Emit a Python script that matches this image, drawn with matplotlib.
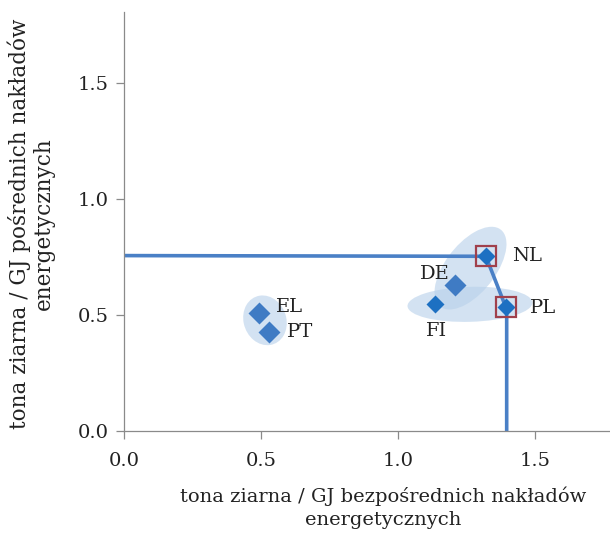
import matplotlib
matplotlib.use("Agg")
import matplotlib.pyplot as plt
from matplotlib.patches import Ellipse

plt.rcParams['font.family'] = ['DejaVu Serif']

countries = ["EL", "PT", "DE", "FI", "NL", "PL"]
direct = [0.493, 0.529, 1.208, 1.135, 1.321, 1.394]
indirect = [0.509, 0.427, 0.629, 0.547, 0.754, 0.534]
efficient = ["NL", "PL"]
frontier_x = [0.0, 1.321, 1.394, 1.397, 1.397]
frontier_y = [0.757, 0.754, 0.534, 0.5, 0.0]
xticks = [0.0, 0.5, 1.0, 1.5]
yticks = [0.0, 0.5, 1.0, 1.5]

fig = plt.figure(figsize=(6.10, 5.33), dpi=100)
ax = fig.add_axes([0.203, 0.191, 0.797, 0.786])

blue = "#4a80c6"
fill = "#b7d0ea"

# cluster ellipses
ax.add_patch(Ellipse((0.515, 0.478), 0.157, 0.216, angle=10, facecolor=fill, alpha=0.6, edgecolor='none', zorder=1))
ax.add_patch(Ellipse((1.263, 0.547), 0.456, 0.151, angle=2, facecolor=fill, alpha=0.6, edgecolor='none', zorder=1))
ax.add_patch(Ellipse((1.265, 0.703), 0.40, 0.19, angle=59, facecolor=fill, alpha=0.6, edgecolor='none', zorder=1))

ax.plot(frontier_x, frontier_y, color=blue, lw=2.6, zorder=2, solid_capstyle='butt')

sizes = {"EL": 11, "PT": 11, "DE": 11, "FI": 9, "NL": 9, "PL": 9}
cols = {"EL": "#3f7bc4", "PT": "#3f7bc4", "DE": "#3f7bc4", "FI": "#1d70c2", "NL": "#1d70c2", "PL": "#1d70c2"}
for c, x, y in zip(countries, direct, indirect):
    ax.plot([x], [y], marker='D', ms=sizes[c], color=cols[c], mec='none', zorder=3)
    if c in efficient:
        ax.plot([x], [y], marker='s', ms=14, mfc='none', mec="#a0404c", mew=1.6, zorder=4)

label_pos = {"EL": (0.555, 0.534, 'left'), "PT": (0.595, 0.427, 'left'),
             "DE": (1.135, 0.677, 'center'), "FI": (1.142, 0.431, 'center'),
             "NL": (1.416, 0.754, 'left'), "PL": (1.482, 0.53, 'left')}
for c in countries:
    lx, ly, ha = label_pos[c]
    ax.text(lx, ly, c, ha=ha, va='center', fontsize=14, color='#222222', zorder=5)

ax.set_xlim(0, 1.774)
ax.set_ylim(0, 1.806)
ax.set_xticks(xticks)
ax.set_yticks(yticks)
ax.set_xticklabels([f"{v:.1f}" for v in xticks])
ax.set_yticklabels([f"{v:.1f}" for v in yticks])
for s in ['top', 'right']:
    ax.spines[s].set_visible(False)
for s in ['left', 'bottom']:
    ax.spines[s].set_color('#8a8a8a')
    ax.spines[s].set_linewidth(0.9)
ax.tick_params(axis='both', colors='#8a8a8a', labelcolor='#222222', labelsize=14, length=6, width=0.9, direction='out')
ax.tick_params(axis='x', pad=9)
ax.tick_params(axis='y', pad=5)

ax.set_xlabel("tona ziarna / GJ bezpośrednich nakładów\nenergetycznych", fontsize=14, color='#222222', linespacing=1.35)
ax.xaxis.set_label_coords(0.533, -0.133)
ax.set_ylabel("tona ziarna / GJ pośrednich nakładów\nenergetycznych", fontsize=15.5, color='#222222', linespacing=1.1)
ax.yaxis.set_label_coords(-0.142, 0.495)

fig.savefig("out.png", dpi=100)
